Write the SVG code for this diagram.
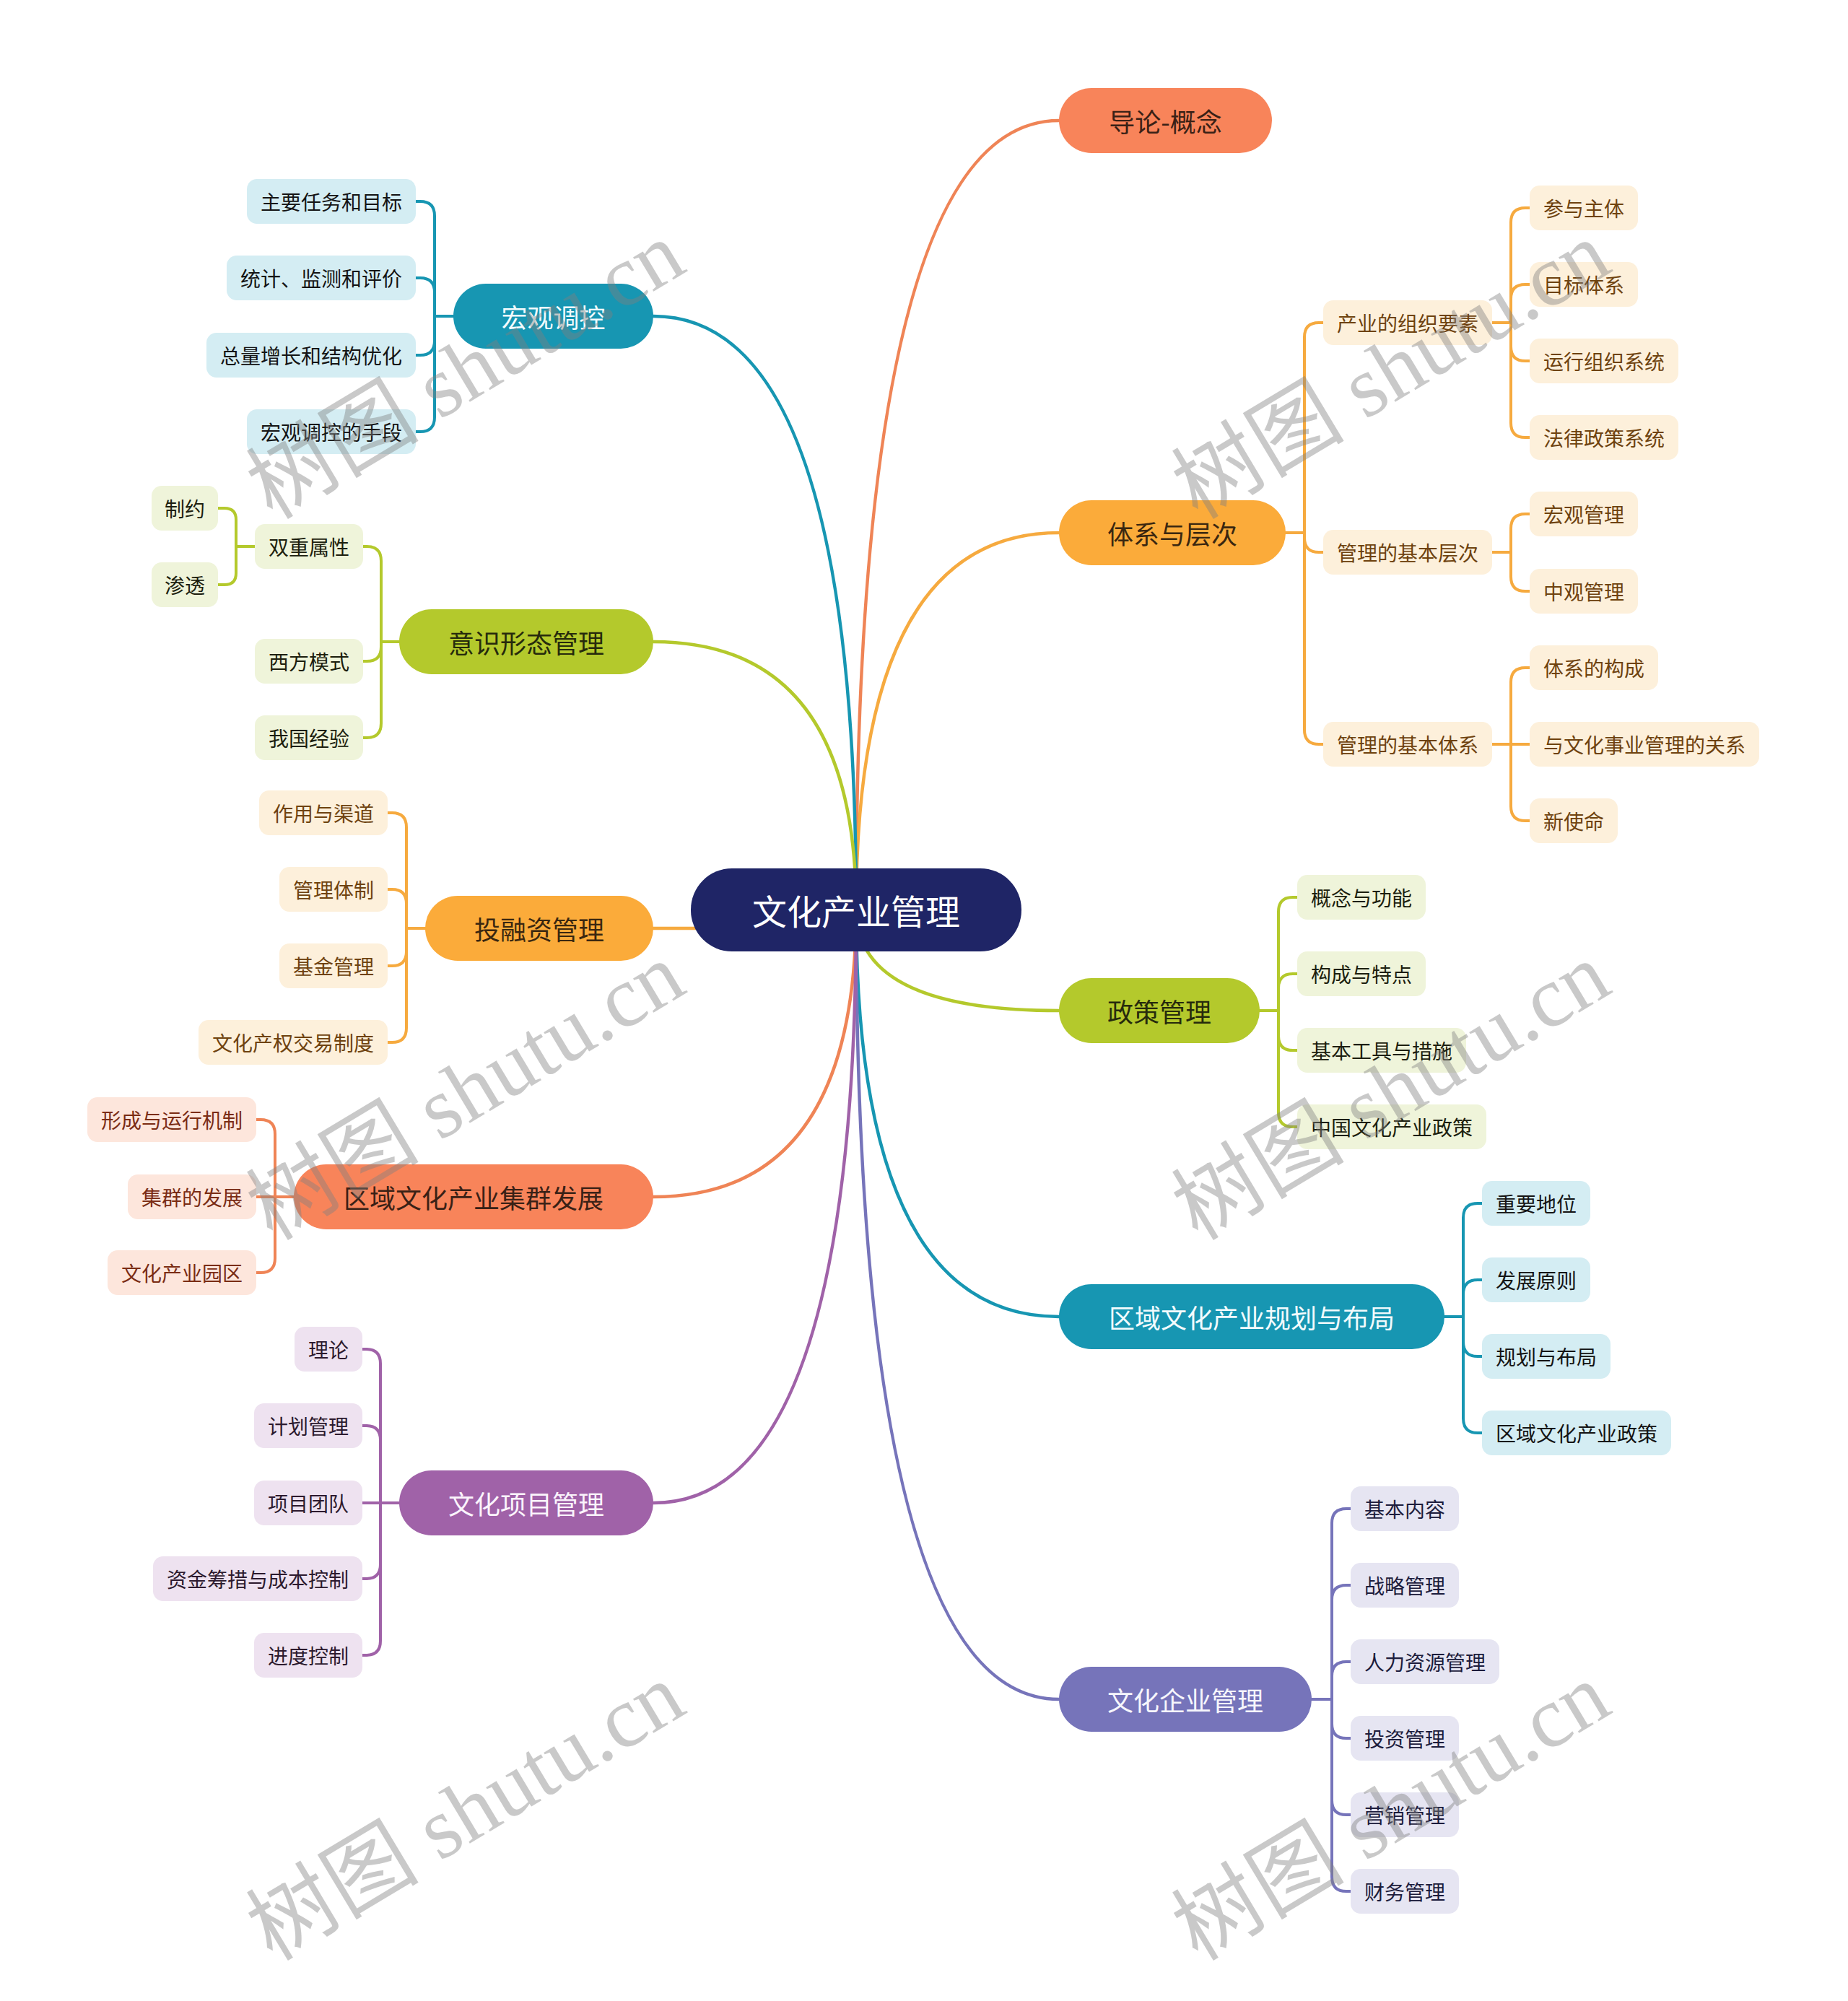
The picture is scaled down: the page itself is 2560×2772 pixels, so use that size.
<svg xmlns="http://www.w3.org/2000/svg" width="2560" height="2772" viewBox="0 0 2560 2772">
<style>
text{font-family:"Noto Sans CJK SC","Noto Sans",sans-serif;text-anchor:middle;dominant-baseline:central}
.m text{font-size:36px}
.l text{font-size:28px}
.c path{fill:none;stroke-width:4;stroke-linecap:round;stroke-linejoin:round}
.c .mb{stroke-width:4.5}
.teal{stroke:#1796B2}.green{stroke:#B4C92C}.orange{stroke:#F6AA3F}.coral{stroke:#EF8456}.purple{stroke:#A062A8}.violet{stroke:#7674BA}
.mteal rect{fill:#1796B2}.mteal text{fill:#F2FBFD}
.mgreen rect{fill:#B4C92C}.mgreen text{fill:#262A0C}
.morange rect{fill:#FBAB3A}.morange text{fill:#3A2710}
.mcoral rect{fill:#F8845A}.mcoral text{fill:#3A2116}
.mpurple rect{fill:#A062A8}.mpurple text{fill:#FBF4FC}
.mviolet rect{fill:#7674BA}.mviolet text{fill:#F6F6FC}
.lteal rect{fill:#D4EDF3}.lteal text{fill:#141414}
.lgreen rect{fill:#EFF4DA}.lgreen text{fill:#1C1E0E}
.lorange rect{fill:#FDF0DB}.lorange text{fill:#6E420F}
.lcoral rect{fill:#FDE6DC}.lcoral text{fill:#7A2C14}
.lpurple rect{fill:#EEE2F0}.lpurple text{fill:#2C1A2E}
.lviolet rect{fill:#E6E5F2}.lviolet text{fill:#1C1C3C}
.wm{font-family:"Liberation Serif","Noto Sans CJK SC",serif;font-size:120px;fill:#808080;opacity:0.42}
</style>
<rect width="2560" height="2772" fill="#FFFFFF"/>
<g id="connectors" class="c">
<path class="mb coral" d="M1186 1260 Q1186 167 1467 167"/>
<path class="mb orange" d="M1186 1260 Q1186 738 1467 738"/>
<path class="mb green" d="M1186 1260 Q1186 1400 1467 1400"/>
<path class="mb teal" d="M1186 1260 Q1186 1824 1467 1824"/>
<path class="mb violet" d="M1186 1260 Q1186 2354 1467 2354"/>
<path class="mb teal" d="M1186 1260 Q1186 438 905 438"/>
<path class="mb green" d="M1186 1260 Q1186 889 905 889"/>
<path class="mb orange" d="M1186 1286 L905 1286"/>
<path class="mb coral" d="M1186 1260 Q1186 1658 905 1658"/>
<path class="mb purple" d="M1186 1260 Q1186 2082 905 2082"/>
<path class="teal" d="M628 438 H602 V299 Q602 279 582 279 H576"/>
<path class="teal" d="M628 438 H602 V405 Q602 385 582 385 H576"/>
<path class="teal" d="M628 438 H602 V472 Q602 492 582 492 H576"/>
<path class="teal" d="M628 438 H602 V578 Q602 598 582 598 H576"/>
<path class="green" d="M553 889 H528 V777 Q528 757 508 757 H503"/>
<path class="green" d="M553 889 H528 V896 Q528 916 508 916 H503"/>
<path class="green" d="M553 889 H528 V1002 Q528 1022 508 1022 H503"/>
<path class="green" d="M353 757 H327 V720 Q327 704 311 704 H302"/>
<path class="green" d="M353 757 H327 V794 Q327 810 311 810 H302"/>
<path class="orange" d="M589 1286 H563 V1146 Q563 1126 543 1126 H537"/>
<path class="orange" d="M589 1286 H563 V1252 Q563 1232 543 1232 H537"/>
<path class="orange" d="M589 1286 H563 V1318 Q563 1338 543 1338 H537"/>
<path class="orange" d="M589 1286 H563 V1424 Q563 1444 543 1444 H537"/>
<path class="coral" d="M407 1658 H381 V1571 Q381 1551 361 1551 H355"/>
<path class="coral" d="M407 1658 H355"/>
<path class="coral" d="M407 1658 H381 V1743 Q381 1763 361 1763 H355"/>
<path class="purple" d="M553 2082 H527 V1889 Q527 1869 507 1869 H502"/>
<path class="purple" d="M553 2082 H527 V1995 Q527 1975 507 1975 H502"/>
<path class="purple" d="M553 2082 H502"/>
<path class="purple" d="M553 2082 H527 V2167 Q527 2187 507 2187 H502"/>
<path class="purple" d="M553 2082 H527 V2273 Q527 2293 507 2293 H502"/>
<path class="orange" d="M1781 738 H1807 V467 Q1807 447 1827 447 H1833"/>
<path class="orange" d="M1781 738 H1807 V745 Q1807 765 1827 765 H1833"/>
<path class="orange" d="M1781 738 H1807 V1011 Q1807 1031 1827 1031 H1833"/>
<path class="orange" d="M2067 447 H2093 V308 Q2093 288 2113 288 H2119"/>
<path class="orange" d="M2067 447 H2093 V414 Q2093 394 2113 394 H2119"/>
<path class="orange" d="M2067 447 H2093 V480 Q2093 500 2113 500 H2119"/>
<path class="orange" d="M2067 447 H2093 V586 Q2093 606 2113 606 H2119"/>
<path class="orange" d="M2067 765 H2093 V732 Q2093 712 2113 712 H2119"/>
<path class="orange" d="M2067 765 H2093 V799 Q2093 819 2113 819 H2119"/>
<path class="orange" d="M2067 1031 H2093 V945 Q2093 925 2113 925 H2119"/>
<path class="orange" d="M2067 1031 H2119"/>
<path class="orange" d="M2067 1031 H2093 V1117 Q2093 1137 2113 1137 H2119"/>
<path class="green" d="M1745 1400 H1771 V1263 Q1771 1243 1791 1243 H1797"/>
<path class="green" d="M1745 1400 H1771 V1369 Q1771 1349 1791 1349 H1797"/>
<path class="green" d="M1745 1400 H1771 V1435 Q1771 1455 1791 1455 H1797"/>
<path class="green" d="M1745 1400 H1771 V1541 Q1771 1561 1791 1561 H1797"/>
<path class="teal" d="M2001 1824 H2027 V1687 Q2027 1667 2047 1667 H2053"/>
<path class="teal" d="M2001 1824 H2027 V1793 Q2027 1773 2047 1773 H2053"/>
<path class="teal" d="M2001 1824 H2027 V1859 Q2027 1879 2047 1879 H2053"/>
<path class="teal" d="M2001 1824 H2027 V1965 Q2027 1985 2047 1985 H2053"/>
<path class="violet" d="M1817 2354 H1845 V2110 Q1845 2090 1865 2090 H1871"/>
<path class="violet" d="M1817 2354 H1845 V2216 Q1845 2196 1865 2196 H1871"/>
<path class="violet" d="M1817 2354 H1845 V2322 Q1845 2302 1865 2302 H1871"/>
<path class="violet" d="M1817 2354 H1845 V2388 Q1845 2408 1865 2408 H1871"/>
<path class="violet" d="M1817 2354 H1845 V2494 Q1845 2514 1865 2514 H1871"/>
<path class="violet" d="M1817 2354 H1845 V2600 Q1845 2620 1865 2620 H1871"/>
</g>
<g id="root"><rect x="957" y="1203" width="458" height="115" rx="57" fill="#1F2566"/><text x="1186" y="1260" font-size="48" fill="#FFFFFF">文化产业管理</text></g>
<g id="n-daolun" class="m mcoral"><rect x="1467" y="122" width="295" height="90" rx="45"/><text x="1614.5" y="167">导论-概念</text></g>
<g id="n-tixi" class="m morange"><rect x="1467" y="693" width="314" height="90" rx="45"/><text x="1624" y="738">体系与层次</text></g>
<g id="n-zhengce" class="m mgreen"><rect x="1467" y="1355" width="278" height="90" rx="45"/><text x="1606" y="1400">政策管理</text></g>
<g id="n-guihua" class="m mteal"><rect x="1467" y="1779" width="534" height="90" rx="45"/><text x="1734" y="1824">区域文化产业规划与布局</text></g>
<g id="n-qiye" class="m mviolet"><rect x="1467" y="2309" width="350" height="90" rx="45"/><text x="1642" y="2354">文化企业管理</text></g>
<g id="n-hongguan" class="m mteal"><rect x="628" y="393" width="277" height="90" rx="45"/><text x="766.5" y="438">宏观调控</text></g>
<g id="n-yishi" class="m mgreen"><rect x="553" y="844" width="352" height="90" rx="45"/><text x="729" y="889">意识形态管理</text></g>
<g id="n-tourong" class="m morange"><rect x="589" y="1241" width="316" height="90" rx="45"/><text x="747" y="1286">投融资管理</text></g>
<g id="n-jiqun" class="m mcoral"><rect x="407" y="1613" width="498" height="90" rx="45"/><text x="656" y="1658">区域文化产业集群发展</text></g>
<g id="n-xiangmu" class="m mpurple"><rect x="553" y="2037" width="352" height="90" rx="45"/><text x="729" y="2082">文化项目管理</text></g>
<g id="l-hg1" class="l lteal"><rect x="342" y="248" width="234" height="62" rx="14"/><text x="459" y="279">主要任务和目标</text></g>
<g id="l-hg2" class="l lteal"><rect x="314" y="354" width="262" height="62" rx="14"/><text x="445" y="385">统计、监测和评价</text></g>
<g id="l-hg3" class="l lteal"><rect x="286" y="461" width="290" height="62" rx="14"/><text x="431" y="492">总量增长和结构优化</text></g>
<g id="l-hg4" class="l lteal"><rect x="342" y="567" width="234" height="62" rx="14"/><text x="459" y="598">宏观调控的手段</text></g>
<g id="l-ys1" class="l lgreen"><rect x="353" y="726" width="150" height="62" rx="14"/><text x="428" y="757">双重属性</text></g>
<g id="l-ys2" class="l lgreen"><rect x="353" y="885" width="150" height="62" rx="14"/><text x="428" y="916">西方模式</text></g>
<g id="l-ys3" class="l lgreen"><rect x="353" y="991" width="150" height="62" rx="14"/><text x="428" y="1022">我国经验</text></g>
<g id="l-ys11" class="l lgreen"><rect x="210" y="673" width="92" height="62" rx="14"/><text x="256" y="704">制约</text></g>
<g id="l-ys12" class="l lgreen"><rect x="210" y="779" width="92" height="62" rx="14"/><text x="256" y="810">渗透</text></g>
<g id="l-tr1" class="l lorange"><rect x="359" y="1095" width="178" height="62" rx="14"/><text x="448" y="1126">作用与渠道</text></g>
<g id="l-tr2" class="l lorange"><rect x="387" y="1201" width="150" height="62" rx="14"/><text x="462" y="1232">管理体制</text></g>
<g id="l-tr3" class="l lorange"><rect x="387" y="1307" width="150" height="62" rx="14"/><text x="462" y="1338">基金管理</text></g>
<g id="l-tr4" class="l lorange"><rect x="275" y="1413" width="262" height="62" rx="14"/><text x="406" y="1444">文化产权交易制度</text></g>
<g id="l-jq1" class="l lcoral"><rect x="121" y="1520" width="234" height="62" rx="14"/><text x="238" y="1551">形成与运行机制</text></g>
<g id="l-jq2" class="l lcoral"><rect x="177" y="1627" width="178" height="62" rx="14"/><text x="266" y="1658">集群的发展</text></g>
<g id="l-jq3" class="l lcoral"><rect x="149" y="1732" width="206" height="62" rx="14"/><text x="252" y="1763">文化产业园区</text></g>
<g id="l-xm1" class="l lpurple"><rect x="408" y="1838" width="94" height="62" rx="14"/><text x="455" y="1869">理论</text></g>
<g id="l-xm2" class="l lpurple"><rect x="352" y="1944" width="150" height="62" rx="14"/><text x="427" y="1975">计划管理</text></g>
<g id="l-xm3" class="l lpurple"><rect x="352" y="2051" width="150" height="62" rx="14"/><text x="427" y="2082">项目团队</text></g>
<g id="l-xm4" class="l lpurple"><rect x="212" y="2156" width="290" height="62" rx="14"/><text x="357" y="2187">资金筹措与成本控制</text></g>
<g id="l-xm5" class="l lpurple"><rect x="352" y="2262" width="150" height="62" rx="14"/><text x="427" y="2293">进度控制</text></g>
<g id="l-tx1" class="l lorange"><rect x="1833" y="416" width="234" height="62" rx="14"/><text x="1950" y="447">产业的组织要素</text></g>
<g id="l-tx2" class="l lorange"><rect x="1833" y="734" width="234" height="62" rx="14"/><text x="1950" y="765">管理的基本层次</text></g>
<g id="l-tx3" class="l lorange"><rect x="1833" y="1000" width="234" height="62" rx="14"/><text x="1950" y="1031">管理的基本体系</text></g>
<g id="l-tx11" class="l lorange"><rect x="2119" y="257" width="150" height="62" rx="14"/><text x="2194" y="288">参与主体</text></g>
<g id="l-tx12" class="l lorange"><rect x="2119" y="363" width="150" height="62" rx="14"/><text x="2194" y="394">目标体系</text></g>
<g id="l-tx13" class="l lorange"><rect x="2119" y="469" width="206" height="62" rx="14"/><text x="2222" y="500">运行组织系统</text></g>
<g id="l-tx14" class="l lorange"><rect x="2119" y="575" width="206" height="62" rx="14"/><text x="2222" y="606">法律政策系统</text></g>
<g id="l-tx21" class="l lorange"><rect x="2119" y="681" width="150" height="62" rx="14"/><text x="2194" y="712">宏观管理</text></g>
<g id="l-tx22" class="l lorange"><rect x="2119" y="788" width="150" height="62" rx="14"/><text x="2194" y="819">中观管理</text></g>
<g id="l-tx31" class="l lorange"><rect x="2119" y="894" width="178" height="62" rx="14"/><text x="2208" y="925">体系的构成</text></g>
<g id="l-tx32" class="l lorange"><rect x="2119" y="1000" width="318" height="62" rx="14"/><text x="2278" y="1031">与文化事业管理的关系</text></g>
<g id="l-tx33" class="l lorange"><rect x="2119" y="1106" width="122" height="62" rx="14"/><text x="2180" y="1137">新使命</text></g>
<g id="l-zc1" class="l lgreen"><rect x="1797" y="1212" width="178" height="62" rx="14"/><text x="1886" y="1243">概念与功能</text></g>
<g id="l-zc2" class="l lgreen"><rect x="1797" y="1318" width="178" height="62" rx="14"/><text x="1886" y="1349">构成与特点</text></g>
<g id="l-zc3" class="l lgreen"><rect x="1797" y="1424" width="234" height="62" rx="14"/><text x="1914" y="1455">基本工具与措施</text></g>
<g id="l-zc4" class="l lgreen"><rect x="1797" y="1530" width="262" height="62" rx="14"/><text x="1928" y="1561">中国文化产业政策</text></g>
<g id="l-gh1" class="l lteal"><rect x="2053" y="1636" width="150" height="62" rx="14"/><text x="2128" y="1667">重要地位</text></g>
<g id="l-gh2" class="l lteal"><rect x="2053" y="1742" width="150" height="62" rx="14"/><text x="2128" y="1773">发展原则</text></g>
<g id="l-gh3" class="l lteal"><rect x="2053" y="1848" width="178" height="62" rx="14"/><text x="2142" y="1879">规划与布局</text></g>
<g id="l-gh4" class="l lteal"><rect x="2053" y="1954" width="262" height="62" rx="14"/><text x="2184" y="1985">区域文化产业政策</text></g>
<g id="l-qy1" class="l lviolet"><rect x="1871" y="2059" width="150" height="62" rx="14"/><text x="1946" y="2090">基本内容</text></g>
<g id="l-qy2" class="l lviolet"><rect x="1871" y="2165" width="150" height="62" rx="14"/><text x="1946" y="2196">战略管理</text></g>
<g id="l-qy3" class="l lviolet"><rect x="1871" y="2271" width="206" height="62" rx="14"/><text x="1974" y="2302">人力资源管理</text></g>
<g id="l-qy4" class="l lviolet"><rect x="1871" y="2377" width="150" height="62" rx="14"/><text x="1946" y="2408">投资管理</text></g>
<g id="l-qy5" class="l lviolet"><rect x="1871" y="2483" width="150" height="62" rx="14"/><text x="1946" y="2514">营销管理</text></g>
<g id="l-qy6" class="l lviolet"><rect x="1871" y="2589" width="150" height="62" rx="14"/><text x="1946" y="2620">财务管理</text></g>
<g id="watermark">
<text class="wm" transform="translate(645 513) rotate(-31)">树图 shutu.cn</text>
<text class="wm" transform="translate(1927 513) rotate(-31)">树图 shutu.cn</text>
<text class="wm" transform="translate(645 1512) rotate(-31)">树图 shutu.cn</text>
<text class="wm" transform="translate(1927 1512) rotate(-31)">树图 shutu.cn</text>
<text class="wm" transform="translate(645 2510) rotate(-31)">树图 shutu.cn</text>
<text class="wm" transform="translate(1927 2510) rotate(-31)">树图 shutu.cn</text>
</g>
</svg>
